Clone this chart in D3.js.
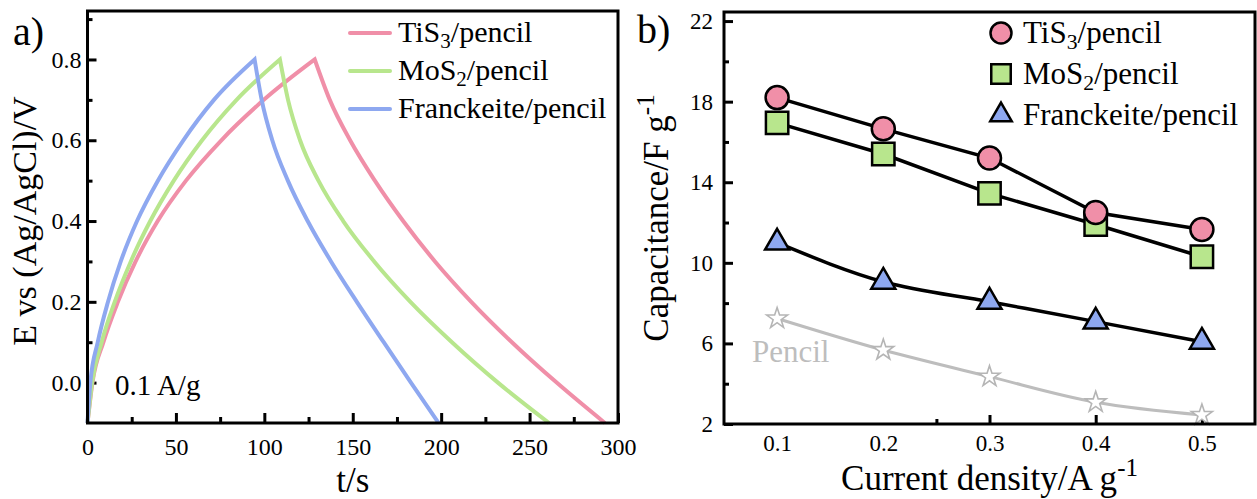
<!DOCTYPE html>
<html>
<head>
<meta charset="utf-8">
<script src="https://cdn.jsdelivr.net/npm/d3@7"></script>
<style>
  body { margin: 0; background: #fff; }
  text { font-family: "Liberation Serif", "Times New Roman", serif; fill: #000; }
</style>
</head>
<body>
<svg id="chart" width="1257" height="499"></svg>
<script>
// ---- panel a: charge / discharge curves at 0.1 A/g (t in s, E in V) ----
const tiS3Time      = [0, 2.8, 9, 17.2, 27.2, 39.7, 55.7, 75.7, 99.7, 128.5, 137, 148.5, 162.5, 178.5, 196.5, 217, 240, 265.3, 292.6]
const tiS3Potential = [-0.1, 0, 0.1, 0.2, 0.3, 0.4, 0.5, 0.6, 0.7, 0.8, 0.7, 0.6, 0.5, 0.4, 0.3, 0.2, 0.1, 0, -0.1]
const moS2Time      = [0, 2.6, 8, 15.4, 24.5, 35.5, 48.8, 64.8, 84.3, 108.8, 113.4, 120.2, 130.6, 144.6, 162.1, 182.6, 206.1, 232.1, 261]
const moS2Potential = [-0.1, 0, 0.1, 0.2, 0.3, 0.4, 0.5, 0.6, 0.7, 0.8, 0.7, 0.6, 0.5, 0.4, 0.3, 0.2, 0.1, 0, -0.1]
const franckTime      = [0, 1.6, 5.8, 11.6, 18.8, 28, 39.8, 54.2, 71.5, 94.5, 98.5, 104.5, 113.3, 124.5, 137.7, 152.3, 167.5, 182.9, 198.5]
const franckPotential = [-0.1, 0, 0.1, 0.2, 0.3, 0.4, 0.5, 0.6, 0.7, 0.8, 0.7, 0.6, 0.5, 0.4, 0.3, 0.2, 0.1, 0, -0.1]

const gcdLabels = [["TiS", "3", "/pencil"], ["MoS", "2", "/pencil"], ["Franckeite/pencil"]]
const gcdColors = ["#f08fa8", "#b8e68d", "#8ea8f0"]

const timeTicks = [0, 50, 100, 150, 200, 250, 300]
const timeMinor = [25, 75, 125, 175, 225, 275]
const potentialTicks = [0, 0.2, 0.4, 0.6, 0.8]
const potentialMinor = [0.1, 0.3, 0.5, 0.7, 0.9]

// ---- panel b: capacitance vs current density ----
const currentDensity = [0.1, 0.2, 0.3, 0.4, 0.5]
const capTiS3   = [18.2, 16.65, 15.2, 12.5, 11.65]
const capMoS2   = [16.95, 15.4, 13.45, 11.9, 10.3]
const capFranck = [11.0, 9.06, 8.07, 7.08, 6.08]
const capPencil = [7.24, 5.67, 4.35, 3.08, 2.45]

const capTicks = [2, 6, 10, 14, 18, 22]
const capMinor = [4, 8, 12, 16, 20]
const densityTickMarks = [0.3, 0.4, 0.5]
const densityMinor = [0.25]

const svg = d3.select("#chart")

// subscript-aware label writer
function writeLabel(text, parts, fs) {
  text.append("tspan").text(parts[0])
  if (parts.length > 1) {
    text.append("tspan").attr("font-size", fs * 0.7).attr("dy", fs * 0.2).text(parts[1])
    text.append("tspan").attr("dy", -fs * 0.2).text(parts[2])
  }
}

function styleAxis(g, fs) {
  g.select(".domain").remove()
  g.selectAll(".tick line").attr("stroke", "#000").attr("stroke-width", 3)
  g.selectAll(".tick text").attr("font-size", fs).attr("fill", "#000")
    .style("font-family", '"Liberation Serif", "Times New Roman", serif')
}

// ================= panel a =================
const xA = d3.scaleLinear().domain([0, 300]).range([87.5, 618])
const yA = d3.scaleLinear().domain([-0.1, 0.92]).range([423, 11])
const gA = svg.append("g")

gA.append("g").attr("transform", `translate(0,${yA.range()[0]})`)
  .call(d3.axisBottom(xA).tickValues(timeTicks).tickSize(-10).tickPadding(15).tickFormat(d3.format("d")))
  .call(g => styleAxis(g, 24))
gA.append("g").attr("transform", `translate(0,${yA.range()[0]})`)
  .call(d3.axisBottom(xA).tickValues(timeMinor).tickSize(-6).tickFormat(""))
  .call(g => styleAxis(g, 24))
gA.append("g").attr("transform", `translate(${xA.range()[0]},0)`)
  .call(d3.axisLeft(yA).tickValues(potentialTicks).tickSize(-9).tickPadding(6).tickFormat(d3.format(".1f")))
  .call(g => styleAxis(g, 24))
gA.append("g").attr("transform", `translate(${xA.range()[0]},0)`)
  .call(d3.axisLeft(yA).tickValues(potentialMinor).tickSize(-5).tickFormat(""))
  .call(g => styleAxis(g, 24))

// charge branch and discharge branch are each smoothed, joined with a sharp peak
const gcdLine = d3.line().curve(d3.curveMonotoneX)
function gcdPath(time, pot) {
  const pts = time.map((t, i) => [xA(t), yA(pot[i])])
  const peak = d3.maxIndex(pot)
  const up = gcdLine(pts.slice(0, peak + 1))
  const down = gcdLine(pts.slice(peak)).replace(/^M[^A-Za-z]*/, "")
  return up + down
}

const gcdData = [[tiS3Time, tiS3Potential], [moS2Time, moS2Potential], [franckTime, franckPotential]]
gA.append("g").selectAll("path")
  .data(gcdData)
  .join("path")
    .attr("d", d => gcdPath(d[0], d[1]))
    .attr("fill", "none")
    .attr("stroke", (d, i) => gcdColors[i])
    .attr("stroke-width", 4)
    .attr("stroke-linejoin", "miter")

gA.append("rect")
  .attr("x", xA.range()[0]).attr("y", yA.range()[1])
  .attr("width", xA.range()[1] - xA.range()[0]).attr("height", yA.range()[0] - yA.range()[1])
  .attr("fill", "none").attr("stroke", "#000").attr("stroke-width", 3)

// legend a
const legA = gA.append("g").selectAll("g").data(gcdLabels).join("g")
  .attr("transform", (d, i) => `translate(350,${33 + i * 38})`)
legA.append("line").attr("x1", 0).attr("x2", 40)
  .attr("stroke", (d, i) => gcdColors[i]).attr("stroke-width", 4).attr("stroke-linecap", "round")
legA.append("text").attr("x", 48).attr("y", 9).attr("font-size", 30)
  .each(function(d) { writeLabel(d3.select(this), d, 30) })

gA.append("text").attr("x", 115).attr("y", 395).attr("font-size", 29).text("0.1 A/g")
gA.append("text").attr("x", 13).attr("y", 45).attr("font-size", 40).text("a)")
gA.append("text").attr("x", d3.mean(xA.range())).attr("y", 492).attr("font-size", 35)
  .attr("text-anchor", "middle").text("t/s")
gA.append("text").attr("transform", `translate(36,${d3.mean(yA.range()) + 4}) rotate(-90)`)
  .attr("font-size", 34).attr("text-anchor", "middle").text("E vs (Ag/AgCl)/V")

// ================= panel b =================
const xB = d3.scaleLinear().domain([0.05, 0.55]).range([724, 1255])
const yB = d3.scaleLinear().domain([2, 22.45]).range([424, 12])
const gB = svg.append("g")

gB.append("g").attr("transform", `translate(0,${yB.range()[0]})`)
  .call(d3.axisBottom(xB).tickValues(currentDensity).tickSize(0).tickPadding(11).tickFormat(d3.format(".1f")))
  .call(g => styleAxis(g, 23))
gB.append("g").attr("transform", `translate(0,${yB.range()[0]})`)
  .call(d3.axisBottom(xB).tickValues(densityTickMarks).tickSize(-9).tickFormat(""))
  .call(g => styleAxis(g, 23))
gB.append("g").attr("transform", `translate(0,${yB.range()[0]})`)
  .call(d3.axisBottom(xB).tickValues(densityMinor).tickSize(-5).tickFormat(""))
  .call(g => styleAxis(g, 23))
gB.append("g").attr("transform", `translate(${xB.range()[0]},0)`)
  .call(d3.axisLeft(yB).tickValues(capTicks).tickSize(-9).tickPadding(11).tickFormat(d3.format("d")))
  .call(g => styleAxis(g, 23))
gB.append("g").attr("transform", `translate(${xB.range()[0]},0)`)
  .call(d3.axisLeft(yB).tickValues(capMinor).tickSize(-5).tickFormat(""))
  .call(g => styleAxis(g, 23))

const straight = d3.line().x((d, i) => xB(currentDensity[i])).y(d => yB(d))
const smooth = d3.line().x((d, i) => xB(currentDensity[i])).y(d => yB(d)).curve(d3.curveMonotoneX)

gB.append("path").attr("d", smooth(capPencil)).attr("fill", "none").attr("stroke", "#bdbdbd").attr("stroke-width", 3)
gB.append("path").attr("d", smooth(capFranck)).attr("fill", "none").attr("stroke", "#000").attr("stroke-width", 3.5)
gB.append("path").attr("d", straight(capMoS2)).attr("fill", "none").attr("stroke", "#000").attr("stroke-width", 3.5)
gB.append("path").attr("d", straight(capTiS3)).attr("fill", "none").attr("stroke", "#000").attr("stroke-width", 3.5)

const star = d3.symbol().type(d3.symbolStar).size(135)
const square = d3.symbol().type(d3.symbolSquare).size(500)
const tri = d3.symbol().type(d3.symbolTriangle).size(250)

gB.append("g").selectAll("path").data(capPencil).join("path")
  .attr("transform", (d, i) => `translate(${xB(currentDensity[i])},${yB(d)})`)
  .attr("d", star).attr("fill", "#fff").attr("stroke", "#b5b5b5").attr("stroke-width", 1.6)
gB.append("g").selectAll("path").data(capFranck).join("path")
  .attr("transform", (d, i) => `translate(${xB(currentDensity[i])},${yB(d)})`)
  .attr("d", tri).attr("fill", gcdColors[2]).attr("stroke", "#000").attr("stroke-width", 2.5)
gB.append("g").selectAll("path").data(capMoS2).join("path")
  .attr("transform", (d, i) => `translate(${xB(currentDensity[i])},${yB(d)})`)
  .attr("d", square).attr("fill", gcdColors[1]).attr("stroke", "#000").attr("stroke-width", 2.5)
gB.append("g").selectAll("circle").data(capTiS3).join("circle")
  .attr("cx", (d, i) => xB(currentDensity[i])).attr("cy", d => yB(d)).attr("r", 11.5)
  .attr("fill", gcdColors[0]).attr("stroke", "#000").attr("stroke-width", 2.5)

gB.append("rect")
  .attr("x", xB.range()[0]).attr("y", yB.range()[1])
  .attr("width", xB.range()[1] - xB.range()[0]).attr("height", yB.range()[0] - yB.range()[1])
  .attr("fill", "none").attr("stroke", "#000").attr("stroke-width", 3)

// legend b
const legB = gB.append("g").selectAll("g").data(gcdLabels).join("g")
  .attr("transform", (d, i) => `translate(1001,${33 + i * 41})`)
legB.each(function(d, i) {
  const g = d3.select(this)
  if (i === 0) g.append("circle").attr("r", 10.5)
    .attr("fill", gcdColors[0]).attr("stroke", "#000").attr("stroke-width", 2.5)
  if (i === 1) g.append("path").attr("d", d3.symbol().type(d3.symbolSquare).size(380)())
    .attr("fill", gcdColors[1]).attr("stroke", "#000").attr("stroke-width", 2.5)
  if (i === 2) g.append("path").attr("d", d3.symbol().type(d3.symbolTriangle).size(200)())
    .attr("fill", gcdColors[2]).attr("stroke", "#000").attr("stroke-width", 2.5)
})
legB.append("text").attr("x", 22).attr("y", 10).attr("font-size", 31)
  .each(function(d) { writeLabel(d3.select(this), d, 31) })

gB.append("text").attr("x", 752).attr("y", 362).attr("font-size", 31).style("fill", "#bdbdbd").text("Pencil")
gB.append("text").attr("x", 637).attr("y", 43).attr("font-size", 40).text("b)")

const xTitle = gB.append("text").attr("x", d3.mean(xB.range())).attr("y", 490)
  .attr("font-size", 35).attr("text-anchor", "middle")
xTitle.append("tspan").text("Current density/A g")
xTitle.append("tspan").attr("font-size", 25).attr("dy", -14).text("-1")

const yTitle = gB.append("text").attr("transform", `translate(668,${d3.mean(yB.range())}) rotate(-90)`)
  .attr("font-size", 35).attr("text-anchor", "middle")
yTitle.append("tspan").text("Capacitance/F g")
yTitle.append("tspan").attr("font-size", 25).attr("dy", -14).text("-1")
</script>
</body>
</html>
